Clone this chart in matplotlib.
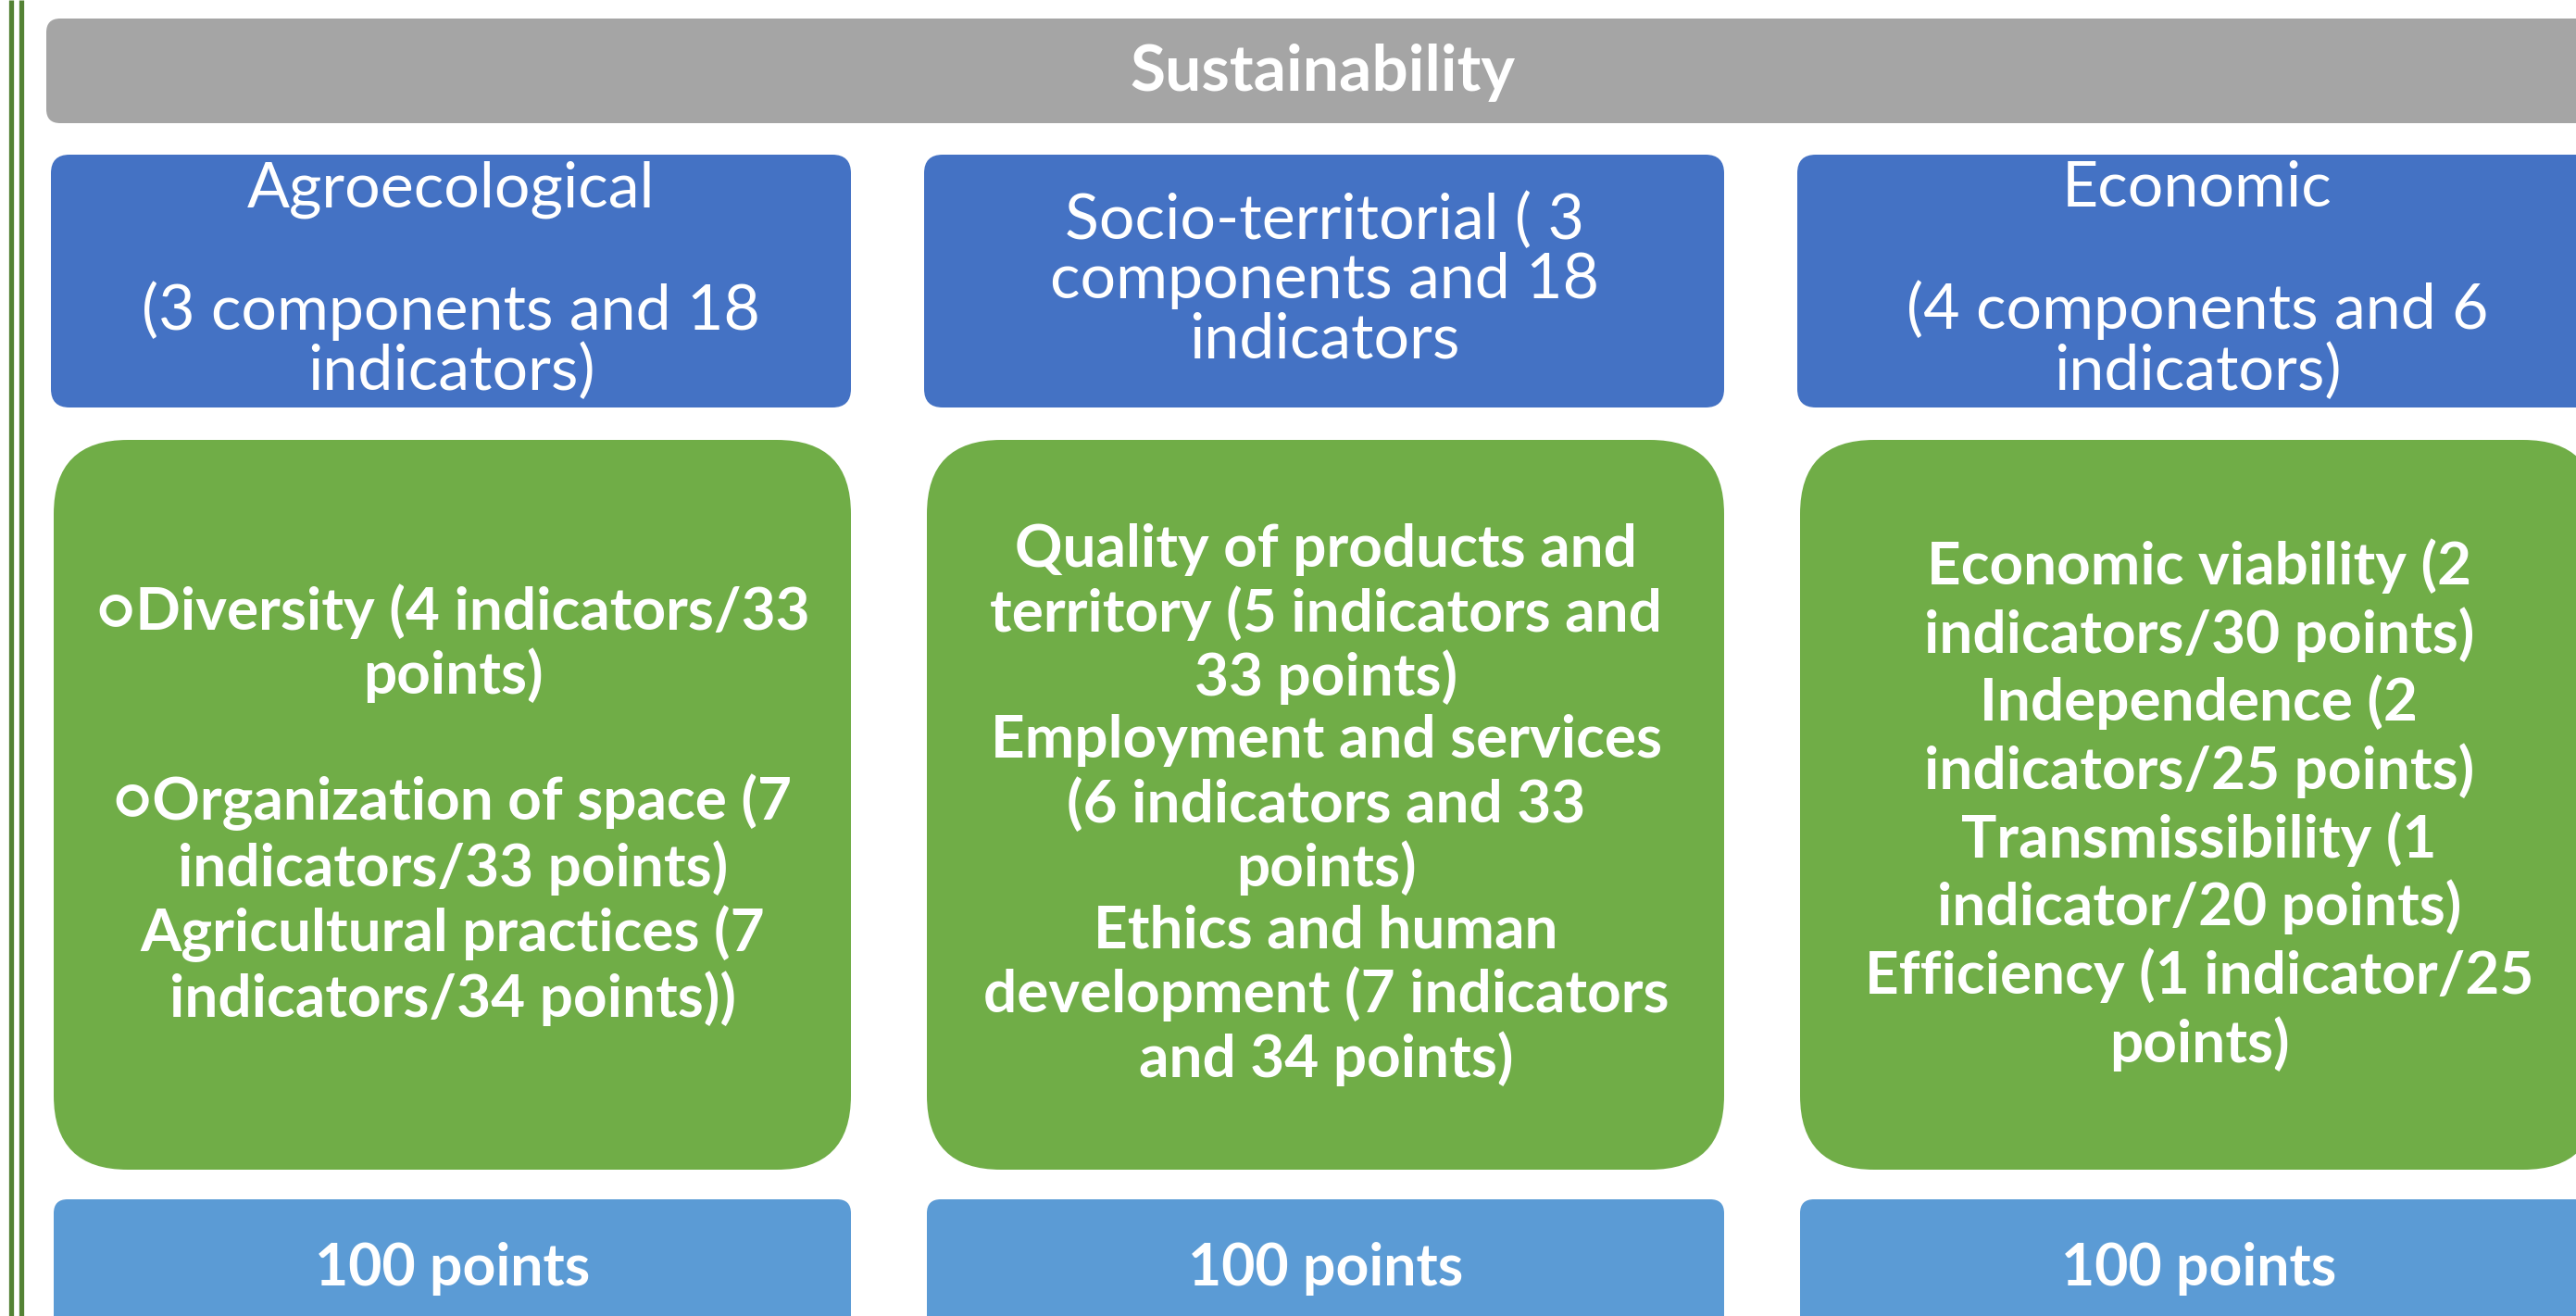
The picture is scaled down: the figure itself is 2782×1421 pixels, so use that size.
import matplotlib.pyplot as plt
from matplotlib.patches import FancyBboxPatch

plt.rcParams['font.family'] = ['Lato', 'DejaVu Sans']

# Texts of the diagram
title = "Sustainability"
headers = [
    "Agroecological\n\n(3 components and 18\nindicators)",
    "Socio-territorial ( 3\ncomponents and 18\nindicators",
    "Economic\n\n(4 components and 6\nindicators)",
]
components = [
    "○Diversity (4 indicators/33\npoints)\n\n○Organization of space (7\nindicators/33 points)\n"
    "Agricultural practices (7\nindicators/34 points))",
    "Quality of products and\nterritory (5 indicators and\n33 points)\nEmployment and services\n"
    "(6 indicators and 33\npoints)\nEthics and human\ndevelopment (7 indicators\nand 34 points)",
    "Economic viability (2\nindicators/30 points)\nIndependence (2\nindicators/25 points)\n"
    "Transmissibility (1\nindicator/20 points)\nEfficiency (1 indicator/25\npoints)",
]
totals = ["100 points", "100 points", "100 points"]

# Layout in pixels
W, H = 2782, 1421
col_x = [55, 998, 1941]
col_w = 864
green_spacing = [1.2, 1.2, 1.28]

fig = plt.figure(figsize=(W / 100, H / 100), dpi=100)
ax = fig.add_axes([0, 0, 1, 1])
ax.set_xlim(0, W)
ax.set_ylim(H, 0)
ax.axis("off")


def box(x, y, w, h, color, r):
    ax.add_patch(FancyBboxPatch((x, y), w, h, boxstyle=f"round,pad=0,rounding_size={r}",
                                facecolor=color, edgecolor="none"))


# double green line on the left
for lx in [12, 23]:
    ax.plot([lx, lx], [0, H], color="#548235", lw=3.8, solid_capstyle="butt")

# top bar
box(50, 20, 2800, 113, "#A5A5A5", 15)
ax.text(1428, 78, title, color="white", fontsize=50, fontweight="bold", ha="center", va="center")

for i in range(3):
    x = col_x[i]
    box(x, 167, col_w, 273, "#4472C4", 20)
    ax.text(x + col_w / 2, 303, headers[i], color="white", fontsize=49, ha="center",
            va="center", linespacing=1.05)

    box(x + 3, 475, col_w - 3, 788, "#70AD47", 80)
    ax.text(x + col_w / 2 + 2, 869, components[i], color="white", fontsize=46,
            fontweight="bold", ha="center", va="center", linespacing=green_spacing[i])

    box(x + 3, 1295, col_w - 3, 200, "#5B9BD5", 15)
    ax.text(x + col_w / 2 + 2, 1370, totals[i], color="white", fontsize=45,
            fontweight="bold", ha="center", va="center")

fig.savefig("out.png", dpi=100)
